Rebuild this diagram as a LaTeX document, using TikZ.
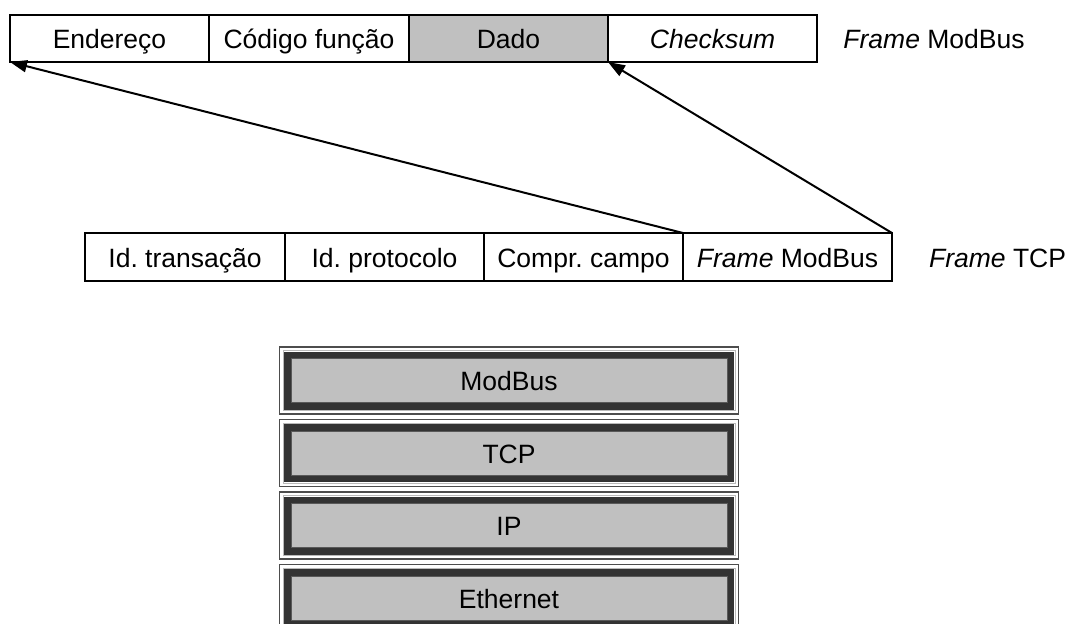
\documentclass[tikz,border=0pt]{standalone}
\usepackage{fontspec}
\setmainfont{Liberation Sans}
\frenchspacing
\usetikzlibrary{arrows.meta}
\definecolor{boxdark}{HTML}{333333}
\definecolor{boxgray}{HTML}{C0C0C0}
\definecolor{boxedge}{HTML}{4D4D4D}
\begin{document}
\begin{tikzpicture}[x=1pt,y=1pt,
  every node/.style={font=\fontsize{26.5}{30}\selectfont, outer sep=0pt, inner sep=0pt, text height=20pt, text depth=0pt},
  cell/.style={draw=black, line width=2pt, minimum height=47pt, fill=white},
  conn/.style={line width=2pt, -{Triangle[length=17pt,width=12pt]}},
  layer/.style={draw=boxedge, line width=1.5pt, fill=white,
    minimum width=459pt, minimum height=67pt,
    path picture={
      \fill[boxdark] ([xshift=4.5pt,yshift=-4.5pt]path picture bounding box.north west) rectangle ([xshift=-4.5pt,yshift=4.5pt]path picture bounding box.south east);
      \draw[gray!55, line width=0.8pt] ([xshift=3.6pt,yshift=-3.6pt]path picture bounding box.north west) rectangle ([xshift=-3.6pt,yshift=3.6pt]path picture bounding box.south east);
      \fill[boxgray] ([xshift=11.5pt,yshift=-11.5pt]path picture bounding box.north west) rectangle ([xshift=-11.5pt,yshift=11.5pt]path picture bounding box.south east);
      \draw[gray!70!black, line width=0.8pt] ([xshift=11.5pt,yshift=-11.5pt]path picture bounding box.north west) rectangle ([xshift=-11.5pt,yshift=11.5pt]path picture bounding box.south east);
    }},
  label/.style={}
]
\useasboundingbox (0,0) rectangle (1069,-624);
\clip (0,0) rectangle (1069,-624);

% Frame ModBus row
\node[cell, minimum width=199pt] (a1) at (109.5,-38.5) {Endereço};
\node[cell, minimum width=200pt] (a2) at (309,-38.5) {Código função};
\node[cell, minimum width=199pt, fill=boxgray] (a3) at (508.5,-38.5) {Dado};
\node[cell, minimum width=209pt] (a4) at (712.5,-38.5) {\textit{Checksum}};
\node[label] (la) at (934,-38.5) {\textit{Frame} ModBus};

% Frame TCP row
\node[cell, minimum width=200pt, minimum height=48pt] (b1) at (185,-257) {Id. transação};
\node[cell, minimum width=199pt, minimum height=48pt] (b2) at (384.5,-257) {Id. protocolo};
\node[cell, minimum width=199pt, minimum height=48pt] (b3) at (583.5,-257) {Compr. campo};
\node[cell, minimum width=209pt, minimum height=48pt] (b4) at (787.5,-257) {\textit{Frame} ModBus};
\node[label, anchor=east] (lb) at (1066,-257) {\textit{Frame} TCP};

% connectors
\draw[conn] (b4.north west) -- (a1.south west);
\draw[conn] (b4.north east) -- (a3.south east);

% protocol stack
\node[layer] (s1) at (509,-380.5) {ModBus};
\node[layer] (s2) at (509,-453) {TCP};
\node[layer] (s3) at (509,-525.5) {IP};
\node[layer] (s4) at (509,-598) {Ethernet};
\end{tikzpicture}
\end{document}
